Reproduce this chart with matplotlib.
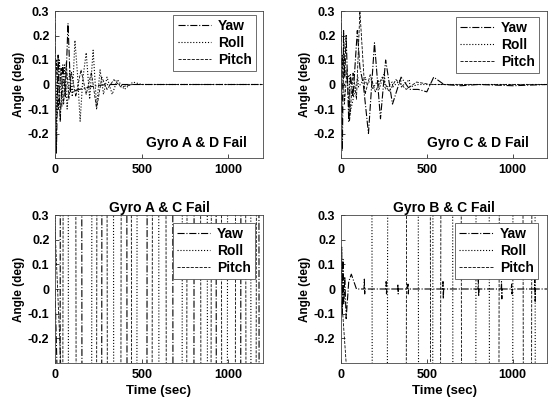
import matplotlib
matplotlib.use("Agg")
import matplotlib.pyplot as plt

plt.rcParams['font.family'] = ['Liberation Sans', 'DejaVu Sans']
plt.rcParams['font.size'] = 9

series_names = ["Yaw", "Roll", "Pitch"]
x_ticks = [0, 500, 1000]
y_ticks = [-0.2, -0.1, 0, 0.1, 0.2, 0.3]
y_tick_labels = ["-0.2", "-0.1", "0", "0.1", "0.2", "0.3"]
panel_labels = ["Gyro A & D Fail", "Gyro C & D Fail", "Gyro A & C Fail", "Gyro B & C Fail"]

# ---- Gyro A & D fail ----
yaw_ad_t = [0, 8, 18, 30, 45, 60, 75, 90, 105, 115, 140, 170, 200, 230, 260, 290, 320, 400, 600, 800, 1000, 1200]
yaw_ad_v = [0.30, -0.28, 0.12, -0.15, 0.08, -0.05, 0.25, -0.03, -0.03, -0.025, -0.02, -0.015, -0.01, -0.006, -0.003, -0.001, 0.0, 0.0, 0.0, 0.0, 0.0, 0.0]
roll_ad_t = [0, 12, 25, 40, 55, 70, 85, 100, 115, 130, 145, 160, 180, 200, 220, 240, 260, 280, 300, 330, 360, 400, 450, 500, 700, 1200]
roll_ad_v = [0.13, -0.12, 0.10, -0.09, 0.08, -0.10, 0.06, -0.05, 0.18, 0.04, -0.15, 0.02, 0.13, -0.06, 0.14, -0.09, 0.06, -0.04, 0.03, -0.04, 0.02, -0.02, 0.01, 0.0, 0.0, 0.0]
pitch_ad_t = [0, 10, 20, 35, 50, 65, 80, 95, 120, 150, 180, 210, 240, 270, 300, 340, 380, 450, 550, 1200]
pitch_ad_v = [-0.05, 0.10, -0.10, 0.07, -0.08, 0.09, -0.06, 0.05, -0.05, 0.06, -0.04, 0.05, -0.10, 0.03, -0.02, 0.02, -0.01, 0.0, 0.0, 0.0]

# ---- Gyro C & D fail ----
yaw_cd_t = [0, 8, 15, 22, 30, 45, 55, 70, 95, 110, 130, 160, 195, 230, 260, 300, 350, 400, 450, 500, 540, 600, 700, 800, 1000, 1200]
yaw_cd_v = [0.30, -0.27, 0.22, 0.03, 0.20, -0.15, 0.04, -0.05, 0.22, 0.07, 0.0, -0.20, 0.17, -0.14, 0.10, -0.08, 0.03, -0.02, -0.02, -0.03, 0.03, 0.0, -0.005, 0.0, -0.005, 0.0]
roll_cd_t = [0, 20, 48, 52, 98, 102, 143, 147, 178, 182, 218, 222, 253, 257, 298, 302, 348, 352, 398, 402, 450, 500, 600, 1200]
roll_cd_v = [0.0, 0.0, 0.04, -0.12, 0.03, -0.01, 0.03, 0.0, 0.02, -0.02, 0.02, -0.02, 0.05, -0.02, 0.01, -0.01, 0.02, -0.01, 0.02, -0.01, 0.0, 0.0, 0.0, 0.0]
pitch_cd_t = [0, 10, 20, 35, 50, 70, 90, 110, 140, 170, 200, 240, 280, 320, 380, 440, 520, 600, 800, 1200]
pitch_cd_v = [-0.10, 0.12, -0.08, 0.06, -0.15, 0.05, -0.06, 0.30, -0.04, 0.04, -0.03, 0.03, -0.03, 0.02, -0.02, 0.01, 0.0, 0.0, 0.0, 0.0]

# ---- Gyro A & C fail (diverging, clipped) ----
yaw_ac_t = [0, 29, 31, 154, 156, 269, 271, 414, 416, 530, 532, 679, 681, 801, 803, 929, 931, 1071, 1073, 1176, 1178, 1200]
yaw_ac_v = [0.0, -0.8, 0.8, 0.8, -0.8, -0.8, 0.8, 0.8, -0.8, -0.8, 0.8, 0.8, -0.8, -0.8, 0.8, 0.8, -0.8, -0.8, 0.8, 0.8, -0.8, -0.8]
roll_ac_t = [0, 10, 76, 78, 211, 213, 337, 339, 472, 474, 598, 600, 733, 735, 878, 880, 994, 996, 1129, 1131, 1200]
roll_ac_v = [0.13, 0.8, 0.8, -0.8, -0.8, 0.8, 0.8, -0.8, -0.8, 0.8, 0.8, -0.8, -0.8, 0.8, 0.8, -0.8, -0.8, 0.8, 0.8, -0.8, -0.8]
pitch_ac_t = [0, 45, 47, 120, 122, 240, 242, 300, 302, 380, 382, 440, 442, 560, 562, 640, 642, 760, 762, 840, 842, 900, 902, 960, 962, 1040, 1042, 1100, 1102, 1160, 1162, 1200]
pitch_ac_v = [0.25, -0.5, 0.5, 0.5, -0.5, -0.5, 0.5, 0.5, -0.5, -0.5, 0.5, 0.5, -0.5, -0.5, 0.5, 0.5, -0.5, -0.5, 0.5, 0.5, -0.5, -0.5, 0.5, 0.5, -0.5, -0.5, 0.5, 0.5, -0.5, -0.5, 0.5, 0.5]

# ---- Gyro B & C fail ----
yaw_bc_t = [0, 4, 8, 12, 16, 22, 30, 45, 60, 90,
            134, 136, 138, 140, 261, 263, 265, 267, 329, 331, 333, 335, 388, 390, 392, 394,
            592, 594, 596, 598, 798, 800, 802, 804, 933, 935, 937, 939, 992, 994, 996, 998,
            1127, 1129, 1131, 1133, 1200]
yaw_bc_v = [0.0, 0.17, -0.10, 0.12, -0.06, 0.05, -0.12, 0.03, 0.06, 0.0,
            0.0, 0.04, -0.02, 0.0, 0.0, 0.03, -0.02, 0.0, 0.0, 0.02, -0.02, 0.0, 0.0, 0.02, -0.02, 0.0,
            0.0, 0.03, -0.04, 0.0, 0.0, 0.04, -0.03, 0.0, 0.0, 0.03, -0.04, 0.0, 0.0, 0.02, -0.02, 0.0,
            0.0, 0.04, -0.05, 0.0, 0.0]
roll_bc_t = [0, 180, 182, 270, 272, 450, 452, 534, 536, 650, 652, 785, 787, 863, 865, 1000, 1002, 1130, 1132, 1200]
roll_bc_v = [0.4, 0.4, -0.4, -0.4, 0.4, 0.4, -0.5, -0.5, 0.6, 0.6, -0.6, -0.6, 0.6, 0.6, -0.6, -0.6, 0.6, 0.6, -0.6, -0.6]
pitch_bc_t = [0, 10, 40, 380, 382, 520, 522, 580, 582, 700, 702, 920, 922, 1060, 1062, 1110, 1112, 1200]
pitch_bc_v = [-0.05, -0.10, -0.4, -0.4, 0.4, 0.4, -0.4, -0.4, 0.4, 0.4, -0.4, -0.4, 0.4, 0.4, -0.4, -0.4, 0.4, 0.4]

panels = [
    (yaw_ad_t, yaw_ad_v, roll_ad_t, roll_ad_v, pitch_ad_t, pitch_ad_v),
    (yaw_cd_t, yaw_cd_v, roll_cd_t, roll_cd_v, pitch_cd_t, pitch_cd_v),
    (yaw_ac_t, yaw_ac_v, roll_ac_t, roll_ac_v, pitch_ac_t, pitch_ac_v),
    (yaw_bc_t, yaw_bc_v, roll_bc_t, roll_bc_v, pitch_bc_t, pitch_bc_v),
]

W, H = 548, 401
fig = plt.figure(figsize=(W / 100, H / 100), dpi=100)

def rect(x0, y0, x1, y1):
    return [x0 / W, 1 - y1 / H, (x1 - x0) / W, (y1 - y0) / H]

rects = [rect(55, 11, 263, 158), rect(341, 11, 547, 158),
         rect(55, 215, 263, 363), rect(341, 215, 547, 363)]
legend_anchor = [(0.966, 0.973), (0.96, 0.96), (0.962, 0.946), (0.955, 0.946)]
text_x = [1108, 1095]

styles = [dict(ls='-.', lw=0.8), dict(ls=':', lw=0.8), dict(ls='--', lw=0.6)]

for i, (r, data) in enumerate(zip(rects, panels)):
    ax = fig.add_axes(r)
    for k in range(3):
        ax.plot(data[2 * k], data[2 * k + 1], color='black', label=series_names[k], **styles[k])
    ax.set_xlim(0, 1200)
    ax.set_ylim(-0.3, 0.3)
    ax.set_xticks(x_ticks)
    ax.set_xticklabels([str(v) for v in x_ticks], fontweight='bold', fontsize=9)
    ax.set_yticks(y_ticks)
    ax.set_yticklabels(y_tick_labels, fontweight='bold', fontsize=9)
    ax.tick_params(direction='in', length=3, width=0.5, pad=4)
    for s in ax.spines.values():
        s.set_linewidth(0.6)
        s.set_color('#444444')
    ax.set_ylabel("Angle (deg)", fontsize=8.5, fontweight='bold', labelpad=2)
    leg = ax.legend(loc='upper right', bbox_to_anchor=legend_anchor[i], frameon=True, fancybox=False,
                    edgecolor='#555555', framealpha=1, handlelength=2.4,
                    handletextpad=0.5, labelspacing=0.2, borderpad=0.3, borderaxespad=0,
                    prop={'size': 10, 'weight': 'bold'})
    leg.get_frame().set_linewidth(0.6)
    if i < 2:
        ax.text(text_x[i], -0.239, panel_labels[i], ha='right', va='center', fontsize=10, fontweight='bold')
    else:
        ax.set_title(panel_labels[i], fontsize=10, pad=1, fontweight='bold')
        ax.set_xlabel("Time (sec)", fontsize=9.5, fontweight='bold', labelpad=3)

fig.savefig("out.png", dpi=100)
